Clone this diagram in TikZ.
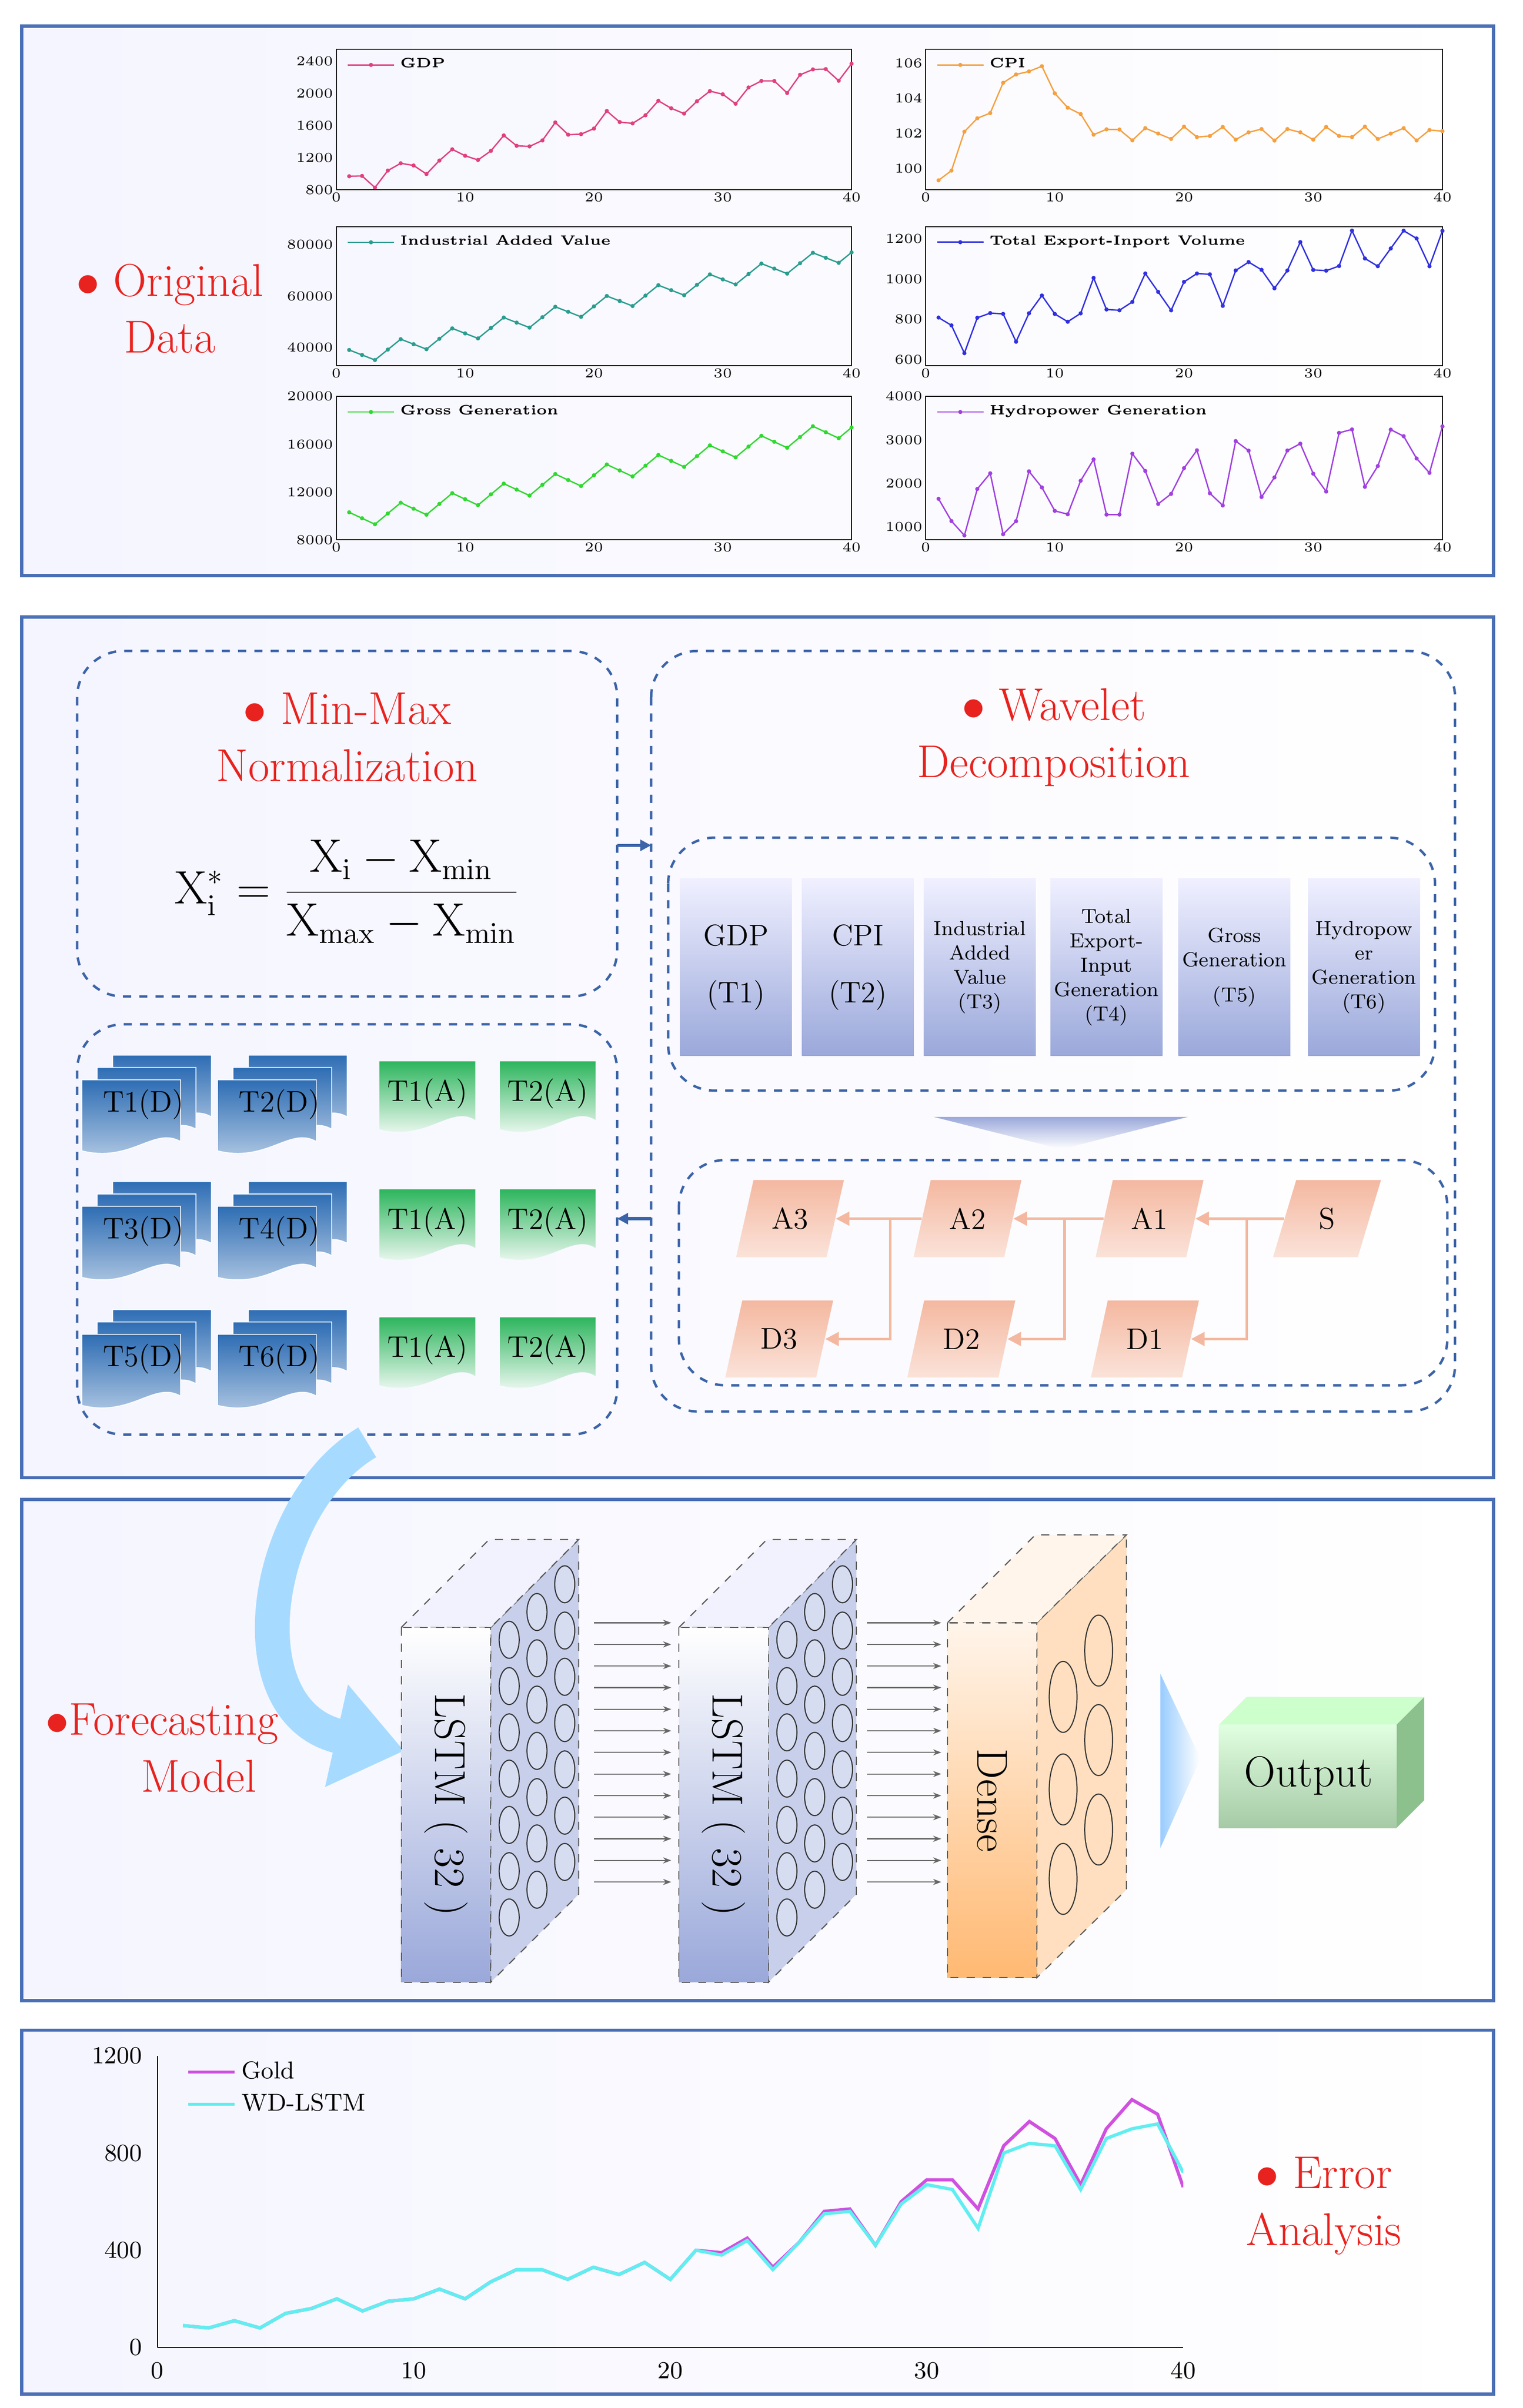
\documentclass[tikz,border=0pt]{standalone}
\usepackage{pgfplots}
\pgfplotsset{compat=1.18}
\usetikzlibrary{positioning,shapes.geometric,arrows.meta}

\definecolor{panelc}{HTML}{4A6FB5}
\definecolor{dashc}{HTML}{3C64A8}
\definecolor{titlec}{HTML}{E8221E}
\definecolor{gdpc}{HTML}{E0407F}
\definecolor{cpic}{HTML}{F5A040}
\definecolor{indc}{HTML}{2A9D8F}
\definecolor{expc}{HTML}{3030E0}
\definecolor{genc}{HTML}{30D830}
\definecolor{hydc}{HTML}{A040E0}
\definecolor{salmonc}{HTML}{F4B8A0}
\definecolor{docc}{HTML}{2E6DB4}
\definecolor{greenc}{HTML}{2DB55D}
\definecolor{lavc}{HTML}{9AA8DA}
\definecolor{goldc}{HTML}{D050E0}
\definecolor{wdc}{HTML}{60EEF0}

\pgfplotsset{
  every axis/.append style={/pgf/number format/set thousands separator={}},
  smallplot/.style={scale only axis, anchor=south west, xmin=0, xmax=40,
    xtick={0,10,20,30,40}, tick style={draw=none},
    ticklabel style={font=\fontsize{5.5}{6}\selectfont, inner sep=1pt},
    legend style={at={(0.02,0.98)}, anchor=north west, draw=none, fill=none,
      font=\fontsize{5}{6}\selectfont\bfseries, inner sep=0pt},
    legend cell align=left, every axis plot/.append style={line width=0.5pt, mark=*, mark size=0.5pt}},
}

\begin{document}
\begin{tikzpicture}[x=0.02cm, y=-0.02cm,
  panel/.style={draw=panelc, line width=1.2pt, left color=blue!4, right color=white},
  dbox/.style={draw=dashc, dashed, line width=0.9pt, rounded corners=0.6cm},
  title/.style={text=titlec, align=center, font=\fontsize{17}{21}\selectfont},
  col/.style={top color=blue!6, bottom color=lavc, minimum width=1.45cm,
    minimum height=2.3cm, align=center, inner sep=1pt, font=\fontsize{7.5}{9}\selectfont},
  para/.style={trapezium, trapezium left angle=72, trapezium right angle=108, trapezium stretches=true,
    top color=salmonc, bottom color=salmonc!40, minimum width=1.4cm, minimum height=1cm,
    font=\fontsize{11}{13}\selectfont},
  warr/.style={draw=salmonc, line width=1pt, -{Triangle[length=5pt,width=5pt]}},
  barr/.style={draw=dashc, line width=1.2pt, -{Triangle[length=4pt,width=4pt]}},
  thin arrow/.style={draw=gray!80!black, line width=0.4pt, -{Stealth[length=3pt]}}]

\useasboundingbox (0,0) rectangle (987,1561);

% panel 1: original data
\draw[panel] (14,17) rectangle (968,373);
\node[title] (orig) at (110,200) {$\bullet$ Original\\Data};

\begin{axis}[smallplot, at={(4.36cm,-2.46cm)}, width=6.68cm, height=1.82cm,
  ymin=800, ymax=2550, ytick={800,1200,1600,2000,2400}]
\addplot[gdpc, domain=1:40, samples=40] {860+37*x+110*sin(90*x)+40*cos(170*x)};
\legend{GDP}
\end{axis}
\begin{axis}[smallplot, at={(12cm,-2.46cm)}, width=6.7cm, height=1.82cm,
  ymin=98.8, ymax=106.8, ytick={100,102,104,106}]
\addplot[cpic, domain=1:40, samples=40] {102+3.8*exp(-((x-8)^2)/10)-3*exp(-((x-1)^2)/2)+0.4*sin(130*x)};
\legend{CPI}
\end{axis}
\begin{axis}[smallplot, at={(4.36cm,-4.74cm)}, width=6.68cm, height=1.8cm,
  ymin=33000, ymax=87000, ytick={40000,60000,80000}, scaled y ticks=false]
\addplot[indc, domain=1:40, samples=40] {35000+1050*x+3000*sin(90*x)};
\legend{Industrial Added Value}
\end{axis}
\begin{axis}[smallplot, at={(12cm,-4.74cm)}, width=6.7cm, height=1.8cm,
  ymin=570, ymax=1260, ytick={600,800,1000,1200}]
\addplot[expc, domain=1:40, samples=40] {720+12*x+90*sin(90*x)+40*sin(200*x)};
\legend{Total Export-Inport Volume}
\end{axis}
\begin{axis}[smallplot, at={(4.36cm,-7cm)}, width=6.68cm, height=1.86cm,
  ymin=8000, ymax=20000, ytick={8000,12000,16000,20000}, scaled y ticks=false]
\addplot[genc, domain=1:40, samples=40] {9400+200*x+700*sin(90*x)};
\legend{Gross Generation}
\end{axis}
\begin{axis}[smallplot, at={(12cm,-7cm)}, width=6.7cm, height=1.86cm,
  ymin=700, ymax=4000, ytick={1000,2000,3000,4000}]
\addplot[hydc, domain=1:40, samples=40] {1300+40*x+700*sin(90*x+45)+250*sin(230*x)};
\legend{Hydropower Generation}
\end{axis}

% panel 2: preprocessing
\draw[panel] (14,400) rectangle (968,958);
\draw[dbox] (50,422) rectangle (400,646);
\node[title] (mmtitle) at (225,478) {$\bullet$ Min-Max\\Normalization};
\node[font=\fontsize{16}{19}\selectfont] (formula) at (225,578)
  {$\displaystyle\mathrm{X}_{\mathrm{i}}^{*}=\frac{\mathrm{X}_{\mathrm{i}}-\mathrm{X}_{\min}}{\mathrm{X}_{\max}-\mathrm{X}_{\min}}$};

\draw[dbox] (422,422) rectangle (943,915);
\node[title] (wdtitle) at (683,478) {$\bullet$ Wavelet\\Decomposition};
\draw[dbox] (433,543) rectangle (930,707);
\node[col, font=\fontsize{11}{15}\selectfont] (c1) at (477,627) {GDP\\[6pt](T1)};
\node[col, font=\fontsize{11}{15}\selectfont] (c2) at (556,627) {CPI\\[6pt](T2)};
\node[col] (c3) at (635,627) {Industrial\\Added\\Value\\(T3)};
\node[col] (c4) at (717,627) {Total\\Export-\\Input\\Generation\\(T4)};
\node[col] (c5) at (800,627) {Gross\\Generation\\[4pt](T5)};
\node[col] (c6) at (884,627) {Hydropow\\er\\Generation\\(T6)};
\shade[top color=lavc, bottom color=white] (605,724) -- (770,724) -- (688,745) -- cycle;

\draw[dbox] (440,752) rectangle (938,898);
\node[para] (A3) at (512,790) {A3};
\node[para] (A2) at (627,790) {A2};
\node[para] (A1) at (745,790) {A1};
\node[para] (S)  at (860,790) {S};
\node[para] (D3) at (505,868) {D3};
\node[para] (D2) at (623,868) {D2};
\node[para] (D1) at (742,868) {D1};
\coordinate (j1) at (808,790);
\coordinate (j2) at (690,790);
\coordinate (j3) at (577,790);
\draw[warr] (S.west) -- (A1.east);
\draw[warr] (A1.west) -- (A2.east);
\draw[warr] (A2.west) -- (A3.east);
\draw[warr] (j1) |- (D1.east);
\draw[warr] (j2) |- (D2.east);
\draw[warr] (j3) |- (D3.east);

\draw[dbox] (50,664) rectangle (400,930);
\foreach \dx/\dy/\lbl in {95/718/T1(D), 183/718/T2(D), 95/800/T3(D), 183/800/T4(D), 95/883/T5(D), 183/883/T6(D)}{
  \begin{scope}[shift={(\dx,\dy)}]
    \foreach \k in {2,1,0}
      \shade[top color=docc, bottom color=docc!35, draw=white, line width=0.3pt, shift={(10*\k-10,-8*\k+8)}]
        (-32,-26) -- (32,-26) -- (32,14) .. controls (15,4) and (0,28) .. (-32,20) -- cycle;
  \end{scope}
  \node[font=\fontsize{11}{13}\selectfont] (d\dx\dy) at (\dx-2,\dy-2) {\lbl};
}
\foreach \ax/\ay/\lbl in {277/712/T1(A), 355/712/T2(A), 277/795/T1(A), 355/795/T2(A), 277/878/T1(A), 355/878/T2(A)}{
  \shade[top color=greenc, bottom color=white, shift={(\ax,\ay)}]
    (-31,-24) -- (31,-24) -- (31,14) .. controls (15,4) and (0,28) .. (-31,20) -- cycle;
  \node[font=\fontsize{11}{13}\selectfont] (g\ax\ay) at (\ax,\ay-3) {\lbl};
}
\coordinate (mmR) at (400,548);
\coordinate (wdL) at (422,548);
\coordinate (dcL) at (422,790);
\coordinate (stR) at (400,790);
\draw[barr] (mmR) -- (wdL);
\draw[barr] (dcL) -- (stR);

% panel 3: forecasting model
\draw[panel] (14,972) rectangle (968,1297);
\node[title, align=center] (fm) at (105,1133) {$\bullet$Forecasting\\\hspace*{1.6em}Model};
\coordinate (cvA) at (238,935);
\coordinate (cvB) at (262,1135);
\draw[blue!40!cyan!35, line width=0.45cm, -{Triangle[length=0.9cm,width=1.3cm]}]
  (cvA) .. controls (170,975) and (150,1110) .. (cvB);

\foreach \bx/\nm in {260/lstma, 440/lstmb}{
  \draw[gray!70!black, dashed, fill=lavc!55] (\bx+58,1055) -- (\bx+115,998) -- (\bx+115,1228) -- (\bx+58,1285) -- cycle;
  \draw[gray!70!black, dashed, fill=blue!5] (\bx,1055) -- (\bx+57,998) -- (\bx+115,998) -- (\bx+58,1055) -- cycle;
  \shade[top color=white, bottom color=lavc, draw=gray!70!black, dashed] (\bx,1055) rectangle (\bx+58,1285);
  \node[rotate=-90, font=\fontsize{16}{19}\selectfont] (\nm) at (\bx+29,1170) {LSTM ( 32 )};
  \foreach \t in {12,30,48}
    \foreach \j in {0,...,6}
      \draw[black!80, fill=white, fill opacity=0.3] (\bx+58+\t,1075-\t+30*\j) ellipse [x radius=6.5, y radius=12];
}
\foreach \r in {0,...,12}{
  \draw[thin arrow] (385,1052+14*\r) -- (435,1052+14*\r);
  \draw[thin arrow] (562,1052+14*\r) -- (610,1052+14*\r);
}
\draw[gray!70!black, dashed, fill=orange!25] (672,1052) -- (730,995) -- (730,1225) -- (672,1282) -- cycle;
\draw[gray!70!black, dashed, fill=orange!8] (614,1052) -- (671,995) -- (730,995) -- (672,1052) -- cycle;
\shade[top color=orange!8, bottom color=orange!55, draw=gray!70!black, dashed] (614,1052) rectangle (672,1282);
\node[rotate=-90, font=\fontsize{16}{19}\selectfont] (dense) at (643,1167) {Dense};
\foreach \t/\y in {17/1100, 17/1160, 17/1218, 40/1070, 40/1128, 40/1186}
  \draw[black!80] (672+\t,\y) ellipse [x radius=9, y radius=23];

\shade[left color=blue!50!cyan!40, right color=white] (752,1085) -- (778,1140) -- (752,1198) -- cycle;
\fill[green!45!black!45] (905,1118) -- (923,1100) -- (923,1167) -- (905,1185) -- cycle;
\fill[green!20] (790,1118) -- (808,1100) -- (923,1100) -- (905,1118) -- cycle;
\shade[top color=green!12, bottom color=green!40!black!35] (790,1118) rectangle (905,1185);
\node[font=\fontsize{16}{19}\selectfont] (out) at (848,1151) {Output};

% panel 4: error analysis
\draw[panel] (14,1316) rectangle (968,1552);
\node[title] (ea) at (858,1430) {$\bullet$ Error\\Analysis};
\begin{axis}[scale only axis, anchor=south west, at={(2.04cm,-30.44cm)}, width=13.3cm, height=3.78cm,
  xmin=0, xmax=40, ymin=0, ymax=1200, xtick={0,10,20,30,40}, ytick={0,400,800,1200},
  axis lines=left, axis line style={-}, tick style={draw=none},
  ticklabel style={font=\fontsize{9}{10}\selectfont},
  legend style={at={(0.02,1.02)}, anchor=north west, draw=none, fill=none, font=\fontsize{9}{10}\selectfont},
  legend cell align=left]
\addplot[goldc, line width=1.2pt] coordinates {(1,90)(2,80)(3,110)(4,80)(5,140)(6,160)(7,200)(8,150)(9,190)(10,200)(11,240)(12,200)(13,270)(14,320)(15,320)(16,280)(17,330)(18,300)(19,350)(20,280)(21,400)(22,390)(23,450)(24,330)(25,430)(26,560)(27,570)(28,420)(29,600)(30,690)(31,690)(32,570)(33,830)(34,930)(35,860)(36,670)(37,900)(38,1020)(39,960)(40,660)};
\addplot[wdc, line width=1.2pt] coordinates {(1,90)(2,80)(3,110)(4,80)(5,140)(6,160)(7,200)(8,150)(9,190)(10,200)(11,240)(12,200)(13,270)(14,320)(15,320)(16,280)(17,330)(18,300)(19,350)(20,280)(21,400)(22,380)(23,440)(24,320)(25,430)(26,550)(27,560)(28,420)(29,590)(30,670)(31,650)(32,490)(33,800)(34,840)(35,830)(36,650)(37,860)(38,900)(39,920)(40,720)};
\legend{Gold, WD-LSTM}
\end{axis}
\end{tikzpicture}
\end{document}
